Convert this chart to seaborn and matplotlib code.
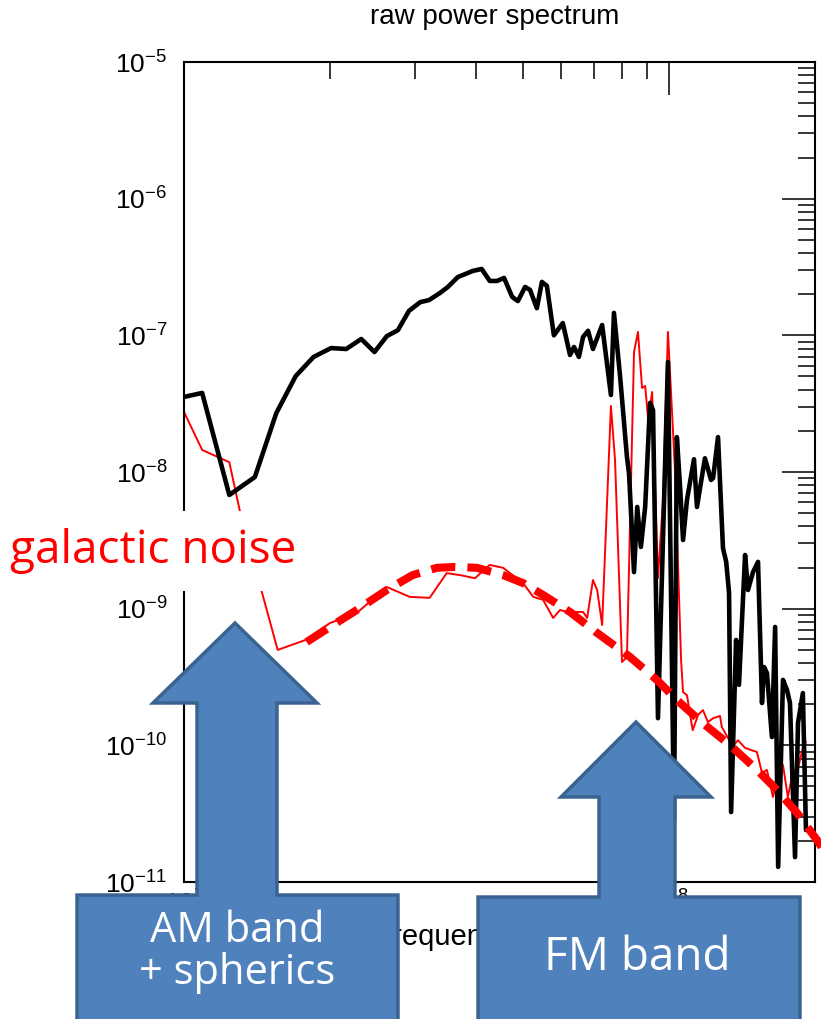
import numpy as np
import pandas as pd
import matplotlib
matplotlib.use("Agg")
import matplotlib.pyplot as plt
import seaborn as sns
from matplotlib.patches import Polygon, Rectangle
from matplotlib.ticker import NullFormatter

# raw spectrum (black), frequency in MHz
raw_freq = [10.0, 10.9, 12.4, 14.0, 15.5, 17.0, 18.5, 20.1, 21.6, 23.2, 24.7, 26.2, 27.6,
            29.1, 30.7, 32.0, 33.7, 35.0, 36.7, 39.4, 41.1, 42.7, 44.2, 45.7, 47.5, 48.8,
            50.5, 51.7, 53.4, 54.7, 56.0, 57.9, 60.4, 62.5, 63.7, 65.2, 66.5, 68.1, 69.7,
            72.8, 75.9, 77.0, 79.3, 81.9, 82.7, 84.7, 86.0, 87.5, 89.3, 91.4, 92.7, 94.9,
            99.5, 102.4, 103.8, 105.4, 106.9, 108.9, 112.6, 114.2, 118.6, 122.1, 123.3,
            126.2, 129.2, 131.2, 133.0, 134.3, 137.5, 139.4, 143.5, 145.5, 149.0, 152.6,
            155.5, 157.0, 159.2, 163.0, 165.5, 167.9, 171.8, 175.1, 177.6, 181.9, 184.5,
            188.8, 191.6]
raw_power = [3.54e-8, 3.79e-8, 6.79e-9, 9.19e-9, 2.70e-8, 5.04e-8, 6.95e-8, 8.07e-8, 7.94e-8,
             9.40e-8, 7.55e-8, 9.88e-8, 1.09e-7, 1.51e-7, 1.75e-7, 1.81e-7, 2.04e-7, 2.26e-7,
             2.67e-7, 2.96e-7, 3.06e-7, 2.50e-7, 2.50e-7, 2.63e-7, 1.91e-7, 1.78e-7, 2.26e-7,
             2.15e-7, 1.58e-7, 2.46e-7, 2.30e-7, 1.00e-7, 1.23e-7, 7.18e-8, 8.22e-8, 6.95e-8,
             9.73e-8, 1.08e-7, 7.94e-8, 1.19e-7, 3.66e-8, 1.46e-7, 4.95e-8, 1.29e-8, 9.84e-9,
             1.85e-9, 5.55e-9, 2.83e-9, 5.55e-9, 3.20e-8, 2.84e-8, 1.58e-10, 6.38e-8, 2.85e-11,
             1.80e-8, 7.76e-9, 3.18e-9, 6.24e-9, 1.24e-8, 5.55e-9, 1.26e-8, 8.75e-9, 9.04e-9,
             1.80e-8, 2.78e-9, 2.20e-9, 1.30e-9, 3.25e-11, 5.90e-10, 2.77e-10, 2.47e-9,
             1.37e-9, 1.85e-9, 2.20e-9, 2.04e-10, 3.74e-10, 3.38e-10, 1.15e-10, 7.35e-10,
             1.29e-11, 3.01e-10, 2.54e-10, 2.04e-10, 1.52e-11, 1.46e-10, 2.41e-10, 2.40e-11]

# reference spectrum (thin red)
ref_freq = [10.0, 10.9, 12.4, 13.05, 15.6, 17.8, 20.0, 22.7, 26.2, 29.2, 32.1, 34.8, 37.1,
            39.8, 42.7, 45.5, 50.0, 52.5, 55.0, 57.7, 59.6, 61.9, 66.5, 67.8, 69.7, 71.1,
            72.8, 75.9, 77.4, 80.0, 81.9, 84.7, 86.3, 88.0, 89.3, 90.6, 92.3, 94.9, 97.2,
            99.5, 102.8, 105.9, 106.9, 108.9, 111.9, 114.8, 117.5, 120.3, 123.3, 127.4,
            128.5, 132.4, 134.9, 138.8, 143.5, 151.8, 155.5, 159.2, 163.8, 167.9, 171.8,
            175.8, 180.2, 184.5, 188.8, 191.6]
ref_power = [2.75e-8, 1.45e-8, 1.18e-8, 5.09e-9, 4.99e-10, 5.90e-10, 7.85e-10, 9.29e-10,
             1.44e-9, 1.22e-9, 1.20e-9, 1.82e-9, 1.76e-9, 1.67e-9, 2.09e-9, 1.99e-9, 1.54e-9,
             1.22e-9, 1.16e-9, 8.55e-10, 9.77e-10, 9.46e-10, 9.46e-10, 8.55e-10, 1.62e-9,
             1.37e-9, 7.60e-10, 3.04e-8, 1.22e-8, 4.07e-10, 4.43e-10, 7.55e-8, 1.06e-7,
             4.12e-8, 4.26e-8, 2.40e-8, 3.85e-8, 1.67e-9, 6.24e-9, 1.06e-7, 1.09e-8, 4.21e-10,
             2.45e-10, 2.33e-10, 1.29e-10, 1.67e-10, 1.81e-10, 1.48e-10, 1.58e-10, 1.64e-10,
             1.36e-10, 1.13e-10, 9.73e-11, 1.09e-10, 9.57e-11, 8.94e-11, 6.28e-11, 6.61e-11,
             4.19e-11, 5.86e-11, 7.18e-11, 4.19e-11, 6.38e-11, 6.83e-11, 9.57e-11, 1.06e-10]

# galactic noise model (thick dashed red)
fit_freq = [17.9, 20.0, 22.7, 26.2, 29.6, 33.2, 36.2, 40.2, 45.5, 50.0, 55.0, 62.5, 71.1,
            83.1, 94.4, 103.8, 115.9, 133.7, 150.4, 167.1, 183.7, 201.8, 209.7]
fit_power = [5.70e-10, 7.35e-10, 9.77e-10, 1.37e-9, 1.76e-9, 1.99e-9, 2.02e-9, 1.99e-9,
             1.76e-9, 1.54e-9, 1.26e-9, 9.46e-10, 6.64e-10, 4.43e-10, 3.01e-10, 2.15e-10,
             1.51e-10, 1.00e-10, 6.83e-11, 4.71e-11, 3.20e-11, 2.03e-11, 1.66e-11]

W, H = 821, 1019
BLUE = '#4F81BD'
BLUE_EDGE = '#3B6391'
NOTE_FONT = ['Open Sans', 'DejaVu Sans']


def to_fig(points):
    """Pixel positions on the slide -> figure fraction."""
    return [(x / W, 1 - y / H) for x, y in points]


def up_arrow_callout(x0, x1, shaft_l, shaft_r, head_l, head_r, tip_y, head_y, box_y):
    return [(x0, H + 5), (x0, box_y), (shaft_l, box_y), (shaft_l, head_y), (head_l, head_y),
            ((head_l + head_r) / 2, tip_y), (head_r, head_y), (shaft_r, head_y),
            (shaft_r, box_y), (x1, box_y), (x1, H + 5)]


sns.set_style('white')
plt.rcParams['font.family'] = ['Liberation Sans', 'DejaVu Sans']
plt.rcParams['mathtext.default'] = 'regular'

fig = plt.figure(figsize=(W / 100, H / 100), dpi=100)
ax = fig.add_axes([184 / W, 1 - 882 / H, (815 - 184) / W, (882 - 62) / H])

df_raw = pd.DataFrame({'freq': np.array(raw_freq) * 1e6, 'power': raw_power})
df_ref = pd.DataFrame({'freq': np.array(ref_freq) * 1e6, 'power': ref_power})
df_fit = pd.DataFrame({'freq': np.array(fit_freq) * 1e6, 'power': fit_power})

sns.lineplot(data=df_raw, x='freq', y='power', color='black', lw=3.3,
             estimator=None, sort=False, ax=ax, zorder=3)
sns.lineplot(data=df_ref, x='freq', y='power', color='red', lw=1.4,
             estimator=None, sort=False, ax=ax, zorder=2)
sns.lineplot(data=df_fit, x='freq', y='power', color='red', lw=5.8,
             estimator=None, sort=False, ax=ax, zorder=4)
fit_line = ax.lines[-1]
fit_line.set_dashes((3.0, 1.5))
fit_line.set_dash_capstyle('butt')
fit_line.set_clip_on(False)

ax.set_xscale('log')
ax.set_yscale('log')
ax.set_xlim(1e7, 2e8)
ax.set_ylim(1e-11, 1e-5)
ax.xaxis.set_minor_formatter(NullFormatter())
ax.tick_params(which='both', direction='in', top=True, right=True, width=1.1, colors='black')
ax.tick_params(which='major', length=24, labelsize=19, pad=12)
ax.tick_params(which='minor', length=12)
ax.tick_params(axis='x', which='major', pad=6)
for sp in ax.spines.values():
    sp.set_linewidth(1.5)
    sp.set_color('black')
ax.set_xlabel('frequency (Hz)', fontsize=21, color='black')
ax.xaxis.set_label_coords(0.468, -0.05)
ax.set_ylabel('')

fig.text(495 / W, 1 - 17 / H, 'raw power spectrum', ha='center', va='center', fontsize=20,
         color='black')

# "galactic noise" label on a white patch
fig.patches.append(Rectangle((0, 1 - 591 / H), 316 / W, 80 / H, transform=fig.transFigure,
                             facecolor='white', edgecolor='none', zorder=5))
fig.text(10 / W, 1 - 551 / H, 'galactic noise', color='red', fontsize=33,
         family=NOTE_FONT, ha='left', va='center', zorder=6)

# arrows
am = up_arrow_callout(77, 398, 197, 277, 153, 317, 623, 703, 895)
fm = up_arrow_callout(478, 800, 599, 675, 561, 711, 722, 797, 897)
for pts in (am, fm):
    fig.patches.append(Polygon(to_fig(pts), closed=True, transform=fig.transFigure,
                               facecolor=BLUE, edgecolor=BLUE_EDGE, linewidth=2.5, zorder=7,
                               joinstyle='miter'))

fig.text(237 / W, 1 - 952 / H, 'AM band\n+ spherics', color='white', fontsize=30,
         family=NOTE_FONT, ha='center', va='center', linespacing=1.0, zorder=8)
fig.text(637 / W, 1 - 958 / H, 'FM band', color='white', fontsize=33,
         family=NOTE_FONT, ha='center', va='center', zorder=8)

fig.savefig('out.png', dpi=100, facecolor='white')
